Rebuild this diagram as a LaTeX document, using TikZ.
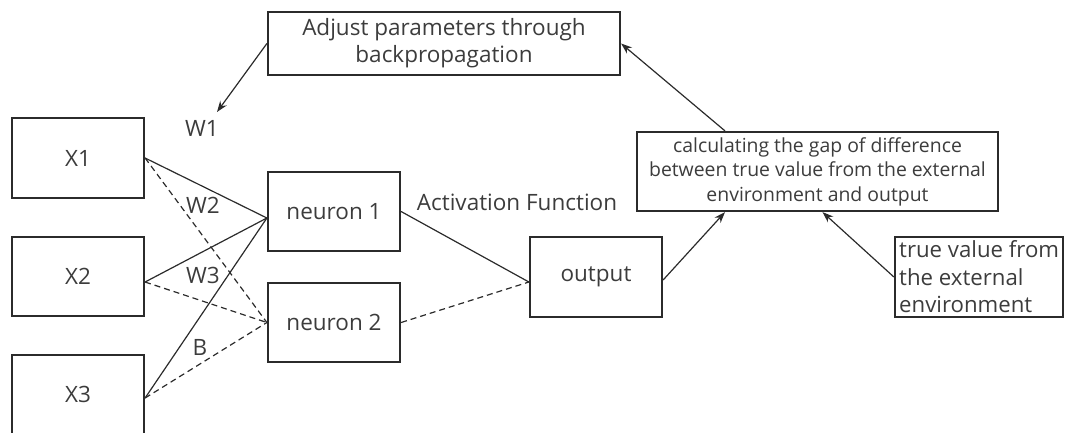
\documentclass[tikz,border=0pt]{standalone}
\usepackage{fontspec}
\setmainfont{Open Sans}
\usetikzlibrary{arrows.meta,calc}
\definecolor{ink}{HTML}{2B2B2B}
\definecolor{txt}{HTML}{3C3C3C}
\begin{document}
\begin{tikzpicture}[x=1pt,y=-1pt,
  box/.style={draw=ink,line width=2.2pt,inner sep=0pt,text=txt,align=center,font=\fontsize{22.5}{27}\selectfont},
  wire/.style={draw=ink,line width=1.2pt},
  dwire/.style={wire,dash pattern=on 6pt off 4pt},
  arr/.style={wire,-{Stealth[length=11pt,width=8pt]}},
  lbl/.style={text=txt,font=\fontsize{22.5}{27}\selectfont,inner sep=0pt}]
\useasboundingbox (0,0) rectangle (1065,432);
% inputs
\node[box,minimum width=132pt,minimum height=80pt] (x1) at (78,158) {X1};
\node[box,minimum width=132pt,minimum height=79pt] (x2) at (78,276.5) {X2};
\node[box,minimum width=132pt,minimum height=79pt] (x3) at (78,394.5) {X3};
% neurons and output
\node[box,minimum width=132pt,minimum height=79pt] (n1) at (334,211.5) {neuron 1};
\node[box,minimum width=132pt,minimum height=79pt] (n2) at (334,322.5) {neuron 2};
\node[box,minimum width=132pt,minimum height=80pt] (out) at (596,277) {output};
% feedback boxes
\node[box,minimum width=352pt,minimum height=63pt,font=\fontsize{22.5}{26.7}\selectfont] (adjust) at (444,43.5)
  {Adjust parameters through\\backpropagation};
\node[box,minimum width=361pt,minimum height=79pt,font=\fontsize{19.4}{24.5}\selectfont] (gap) at (817.5,171.5)
  {calculating the gap of difference\\between true value from the external\\environment and output};
\node[box,minimum width=168pt,minimum height=80pt] (truth) at (979,277) {};
\node[text=txt,align=left,anchor=west,inner sep=0pt,font=\fontsize{22.2}{27.5}\selectfont] (truthtxt) at (899,277)
  {true value from\\the external\\environment};
% weighted connections
\coordinate (n1in) at ([yshift=-6.5pt]n1.west);
\coordinate (x2out) at ([yshift=-5.5pt]x2.east);
\coordinate (x3out) at ([yshift=-3.5pt]x3.east);
\draw[wire] (x1.east) -- (n1in);
\draw[wire] (x2out) -- (n1in);
\draw[wire] (x3out) -- (n1in);
\draw[dwire] (x1.east) -- (n2.west);
\draw[dwire] (x2out) -- (n2.west);
\draw[dwire] (x3out) -- (n2.west);
\draw[wire] (n1.east) -- ([yshift=-5pt]out.west);
\draw[dwire] (n2.east) -- ([yshift=-5pt]out.west);
% error feedback
\draw[arr] ([yshift=-3pt]out.east) -- ([xshift=-92.5pt]gap.south);
\draw[arr] (truth.west) -- ([xshift=5pt]gap.south);
\draw[arr] ([xshift=-92.5pt]gap.north) -- (adjust.east);
\coordinate (w1tip) at (217,112);
\draw[arr] (adjust.west) -- (w1tip);
% labels
\node[lbl] (w1) at (202,128) {W1};
\node[lbl] (w2) at (203,205) {W2};
\node[lbl] (w3) at (203,275) {W3};
\node[lbl] (b) at (200,347) {B};
\node[lbl] (act) at (517,202) {Activation Function};
\end{tikzpicture}
\end{document}
